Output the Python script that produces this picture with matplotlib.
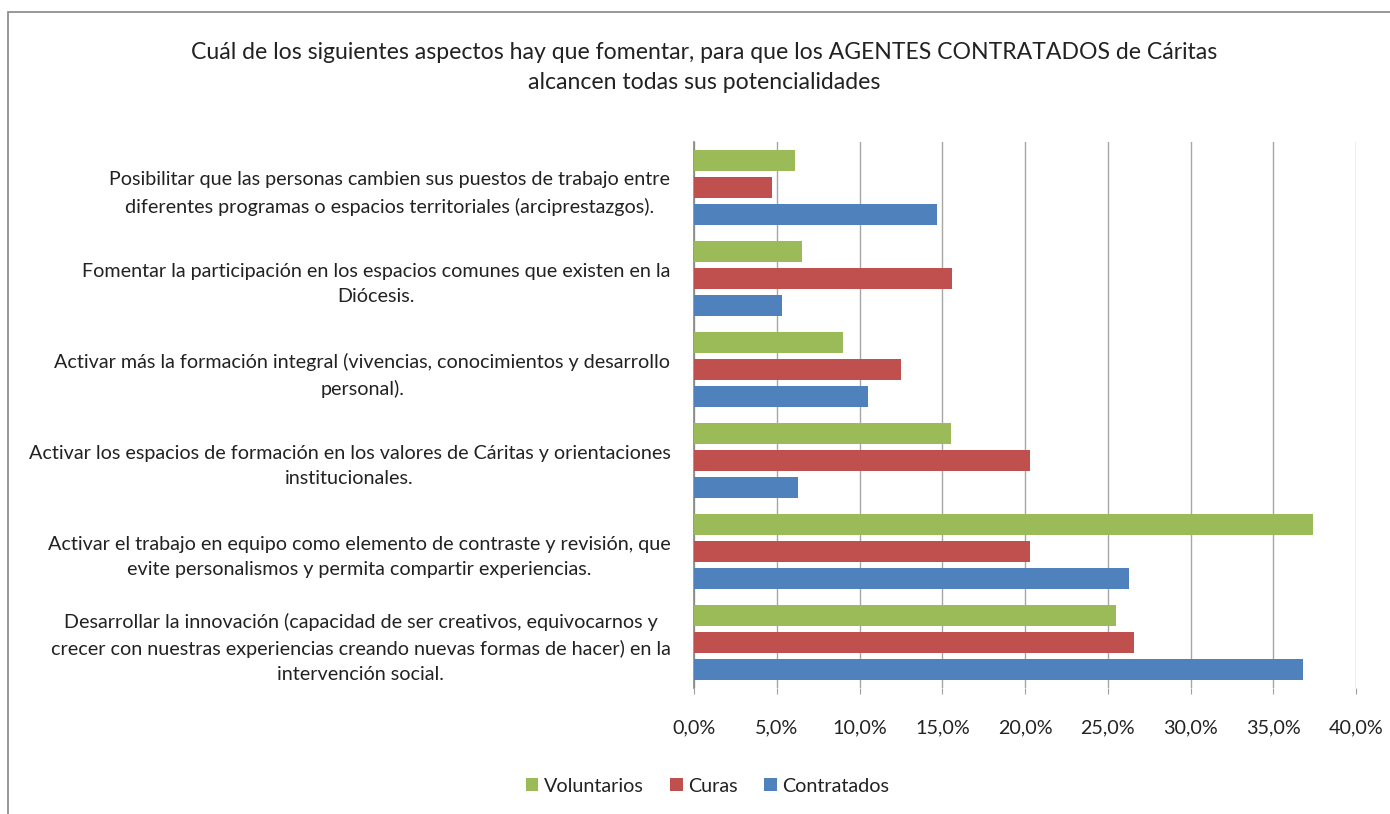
import numpy as np
import matplotlib.pyplot as plt
from matplotlib.patches import Rectangle
from matplotlib.ticker import FuncFormatter

plt.rcParams['font.family'] = ['Lato', 'DejaVu Sans']

categorias = [
    "Posibilitar que las personas cambien sus puestos de trabajo entre\ndiferentes programas o espacios territoriales (arciprestazgos).",
    "Fomentar la participación en los espacios comunes que existen en la\nDiócesis.",
    "Activar más la formación integral (vivencias, conocimientos y desarrollo\npersonal).",
    "Activar los espacios de formación en los valores de Cáritas y orientaciones\ninstitucionales.",
    "Activar el trabajo en equipo como elemento de contraste y revisión, que\nevite personalismos y permita compartir experiencias.",
    "Desarrollar la innovación (capacidad de ser creativos, equivocarnos y\ncrecer con nuestras experiencias creando nuevas formas de hacer) en la\nintervención social.",
]
voluntarios = [6.1, 6.5, 9.0, 15.5, 37.4, 25.5]
curas = [4.7, 15.6, 12.5, 20.3, 20.3, 26.6]
contratados = [14.7, 5.3, 10.5, 6.3, 26.3, 36.8]

titulo = ("Cuál de los siguientes aspectos hay que fomentar, para que los AGENTES CONTRATADOS de Cáritas\n"
          "alcancen todas sus potencialidades")

verde = '#9BBB59'
rojo = '#C0504D'
azul = '#4F81BD'

fig = plt.figure(figsize=(13.9, 8.14), dpi=100)
ax = fig.add_axes([0.4993, 0.1548, 0.4763, 0.6708])

y = np.arange(len(categorias))
h = 0.231
paso = 0.293
ax.barh(y - paso, voluntarios, height=h, color=verde, label='Voluntarios', zorder=3)
ax.barh(y, curas, height=h, color=rojo, label='Curas', zorder=3)
ax.barh(y + paso, contratados, height=h, color=azul, label='Contratados', zorder=3)

ax.set_ylim(len(categorias) - 0.5, -0.5)
ax.set_xlim(0, 40)
ax.set_xticks(np.arange(0, 41, 5))
ax.xaxis.set_major_formatter(FuncFormatter(lambda v, p: f"{v:.1f}%".replace('.', ',')))
ax.set_yticks(y)
ax.set_yticklabels(categorias, multialignment='center', fontsize=14.2, color='#222222',
                   linespacing=1.6)
ax.tick_params(axis='y', length=0, pad=17)
ax.tick_params(axis='x', length=4.5, color='#A0A0A0', pad=18, labelsize=14.2, labelcolor='#222222')

ax.grid(axis='x', color='#A6A6A6', linewidth=1, zorder=0)
for s in ['top', 'right', 'bottom']:
    ax.spines[s].set_visible(False)
ax.spines['left'].set_color('#868686')
ax.spines['left'].set_linewidth(1.2)

fig.text(0.5065, 0.917, titulo, ha='center', va='center', fontsize=16.6,
         color='#222222', linespacing=1.55)

leg = fig.legend(loc='center', bbox_to_anchor=(0.509, 0.034), ncol=3, frameon=False,
                 fontsize=14.2, handlelength=0.65, handleheight=0.65, handletextpad=0.3,
                 columnspacing=1.3)
for t in leg.get_texts():
    t.set_color('#222222')

# marco exterior
fig.add_artist(Rectangle((8 / 1390, -0.1), 1.2, 0.1 + 1 - 12 / 814,
                         transform=fig.transFigure, fill=False,
                         edgecolor='#868686', linewidth=1.2))

fig.savefig('out.png', dpi=100, facecolor='white')
